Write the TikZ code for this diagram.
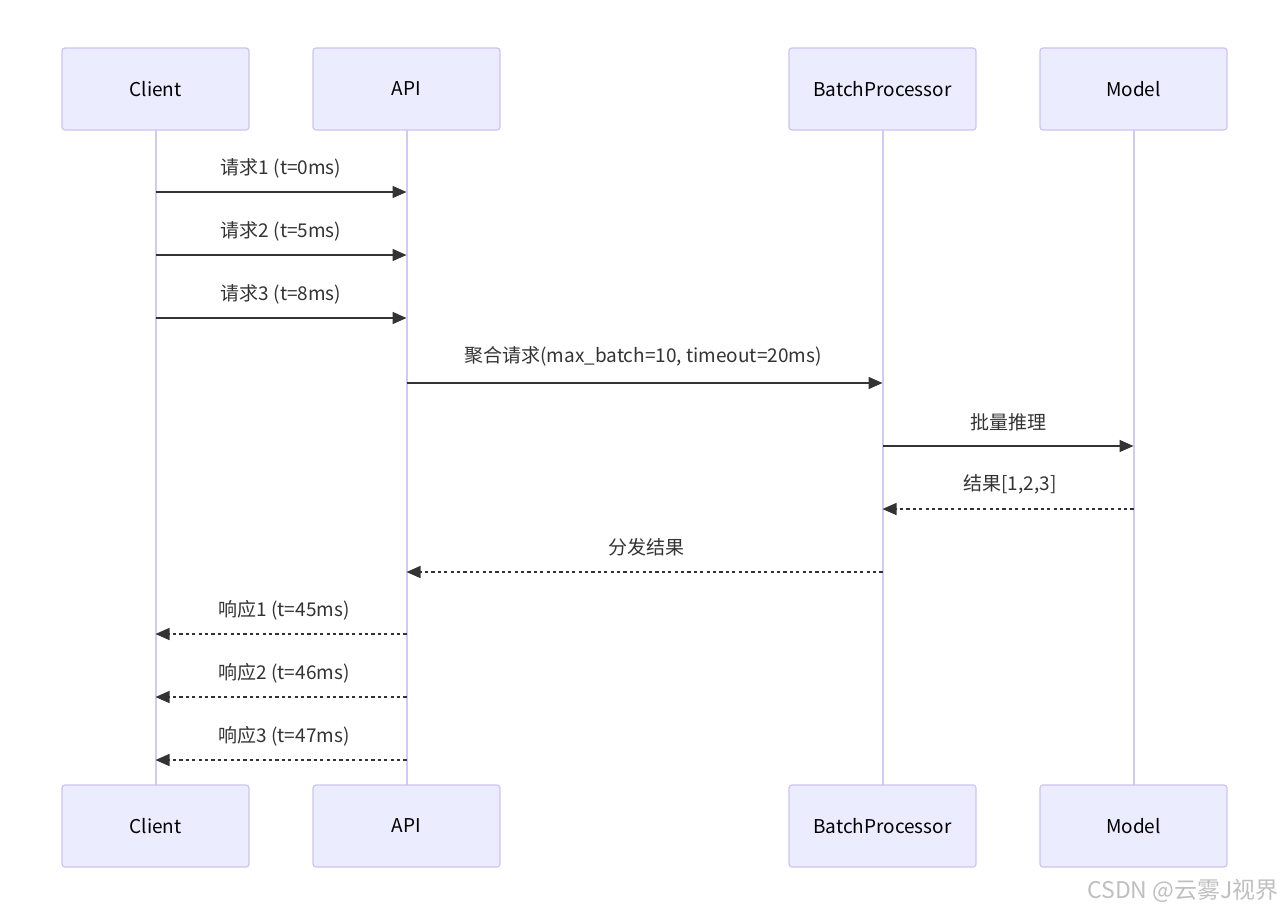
\documentclass[tikz,border=0pt]{standalone}
\usepackage{fontspec}
\setmainfont{Noto Sans CJK SC}
\usetikzlibrary{arrows.meta}
\definecolor{actfill}{HTML}{ECECFF}
\definecolor{actdraw}{HTML}{CEC3F0}
\definecolor{lifeline}{HTML}{D3C9F2}
\definecolor{msg}{HTML}{333333}
\tikzset{
  actor/.style={draw=actdraw, fill=actfill, line width=1.2pt, rounded corners=3pt,
    minimum width=187pt, minimum height=82pt, inner sep=0pt,
    font=\fontsize{19}{22}\selectfont, text=black},
  life/.style={draw=lifeline, line width=2pt},
  msgline/.style={draw=msg, line width=1.5pt, -{Triangle[length=14pt,width=12pt]}},
  reply/.style={msgline, dash pattern=on 3.2pt off 3.2pt},
  lbl/.style={font=\fontsize{19}{22}\selectfont, text=msg, inner sep=0pt},
}
\begin{document}
\begin{tikzpicture}[x=1pt,y=-1pt]
\useasboundingbox (0,0) rectangle (1284,914);
% lifelines first
\coordinate (cT) at (155.5,130); \coordinate (cB) at (155.5,785);
\coordinate (aT) at (406.5,130); \coordinate (aB) at (406.5,785);
\coordinate (bT) at (882.5,130); \coordinate (bB) at (882.5,785);
\coordinate (mT) at (1133.5,130); \coordinate (mB) at (1133.5,785);
\draw[life] (cT) -- (cB);
\draw[life] (aT) -- (aB);
\draw[life] (bT) -- (bB);
\draw[life] (mT) -- (mB);
% actors
\node[actor] (c1) at (155.5,89) {Client};
\node[actor] (a1) at (406.5,89) {API};
\node[actor] (b1) at (882.5,89) {BatchProcessor};
\node[actor] (m1) at (1133.5,89) {Model};
\node[actor] (c2) at (155.5,826) {Client};
\node[actor] (a2) at (406.5,826) {API};
\node[actor] (b2) at (882.5,826) {BatchProcessor};
\node[actor] (m2) at (1133.5,826) {Model};
% message endpoints
\foreach \n/\y in {1/192,2/255,3/318,4/383,5/446,6/509,7/572,8/634,9/697,10/760}{
  \coordinate (c\n) at (155.5,\y);
  \coordinate (a\n) at (406.5,\y);
  \coordinate (b\n) at (882.5,\y);
  \coordinate (m\n) at (1133.5,\y);
}
\draw[msgline] (c1) -- (a1);
\node[lbl] (l1) at (281,168) {请求1 (t=0ms)};
\draw[msgline] (c2) -- (a2);
\node[lbl] (l2) at (281,231) {请求2 (t=5ms)};
\draw[msgline] (c3) -- (a3);
\node[lbl] (l3) at (281,294) {请求3 (t=8ms)};
\draw[msgline] (a4) -- (b4);
\node[lbl] (l4) at (643,356) {聚合请求(max\_batch=10, timeout=20ms)};
\draw[msgline] (b5) -- (m5);
\node[lbl] (l5) at (1008,422) {批量推理};
\draw[reply] (m6) -- (b6);
\node[lbl] (l6) at (1010,484) {结果[1,2,3]};
\draw[reply] (b7) -- (a7);
\node[lbl] (l7) at (646,547) {分发结果};
\draw[reply] (a8) -- (c8);
\node[lbl] (l8) at (284,610) {响应1 (t=45ms)};
\draw[reply] (a9) -- (c9);
\node[lbl] (l9) at (284,673) {响应2 (t=46ms)};
\draw[reply] (a10) -- (c10);
\node[lbl] (l10) at (284,736) {响应3 (t=47ms)};
% watermark
\node[anchor=east, inner sep=0pt, text=black!25, font=\fontsize{23}{26}\selectfont] (wm) at (1279,891) {CSDN @云雾J视界};
\end{tikzpicture}
\end{document}
